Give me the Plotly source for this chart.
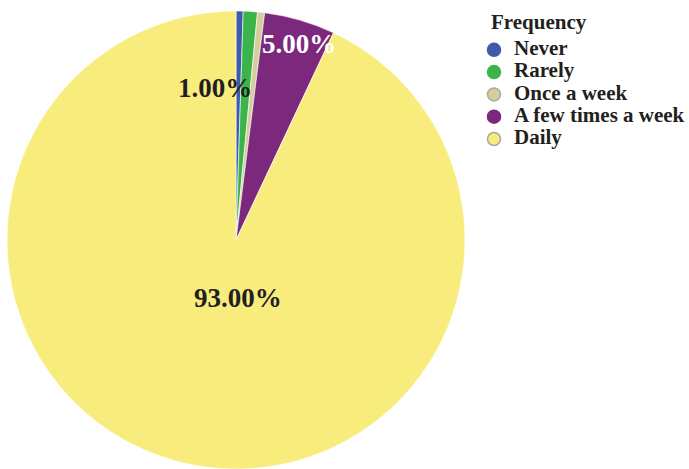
import plotly.graph_objects as go

categories = ["Never", "Rarely", "Once a week", "A few times a week", "Daily"]
values = [0.5, 1.0, 0.5, 5.0, 93.0]
colors = ["#3f5aa9", "#3bb54a", "#d5cd9a", "#7c287d", "#f8ec7d"]
outline = ["#3f5aa9", "#3bb54a", "#a8a8a8", "#7c287d", "#a8a8a8"]
label_text_colors = ["#231f20", "#231f20", "#231f20", "#ffffff", "#231f20"]
# slices that carry a percentage label and where the label sits (pixels)
label_pos = {1: (215, 88), 3: (299, 44), 4: (238, 298)}

W, H = 689, 469
FONT = "Liberation Serif"
TXT = "#231f20"

fig = go.Figure()
fig.add_trace(go.Pie(
    labels=categories, values=values, sort=False, direction="clockwise",
    rotation=0, textinfo="none", hoverinfo="label+percent",
    marker=dict(colors=colors, line=dict(color="white", width=0.6)),
    domain=dict(x=[7 / W, 465 / W], y=[0, 458 / H]),
    showlegend=False,
))

# legend drawn as scatter on its own axis: one row per category index
idx = list(range(len(categories)))
fig.add_trace(go.Scatter(
    x=[0] * len(categories), y=idx, mode="markers",
    marker=dict(symbol="circle", size=13, color=colors, line=dict(color=outline, width=1.5)),
    hoverinfo="skip", showlegend=False, cliponaxis=False,
))
fig.add_trace(go.Scatter(
    x=[20] * len(categories), y=idx, mode="text",
    text=[f"<b>{c}</b>" for c in categories], textposition="middle right",
    textfont=dict(family=FONT, size=21, color=TXT),
    hoverinfo="skip", showlegend=False, cliponaxis=False,
))

row0, step, xc = 49.8, 22.3, 494
fig.update_layout(
    xaxis=dict(visible=False, domain=[0, 1], range=[-xc, W - xc], fixedrange=True),
    yaxis=dict(visible=False, domain=[0, 1],
               range=[(H - row0) / step, -row0 / step], fixedrange=True),
)

total = sum(values)
for i, (px, py) in label_pos.items():
    fig.add_annotation(
        x=px / W, y=1 - py / H, xref="paper", yref="paper",
        text=f"<b>{values[i] / total * 100:.2f}%</b>", showarrow=False,
        font=dict(family=FONT, size=27, color=label_text_colors[i]),
        xanchor="center", yanchor="middle",
    )

fig.add_annotation(
    x=489 / W, y=1 - 22 / H, xref="paper", yref="paper",
    text="<b>Frequency</b>", showarrow=False,
    font=dict(family=FONT, size=21, color=TXT),
    xanchor="left", yanchor="middle",
)

fig.update_layout(
    width=W, height=H, margin=dict(l=0, r=0, t=0, b=0),
    paper_bgcolor="white", plot_bgcolor="rgba(0,0,0,0)",
    font=dict(family=FONT, color=TXT),
)

fig.write_html("out.html")
